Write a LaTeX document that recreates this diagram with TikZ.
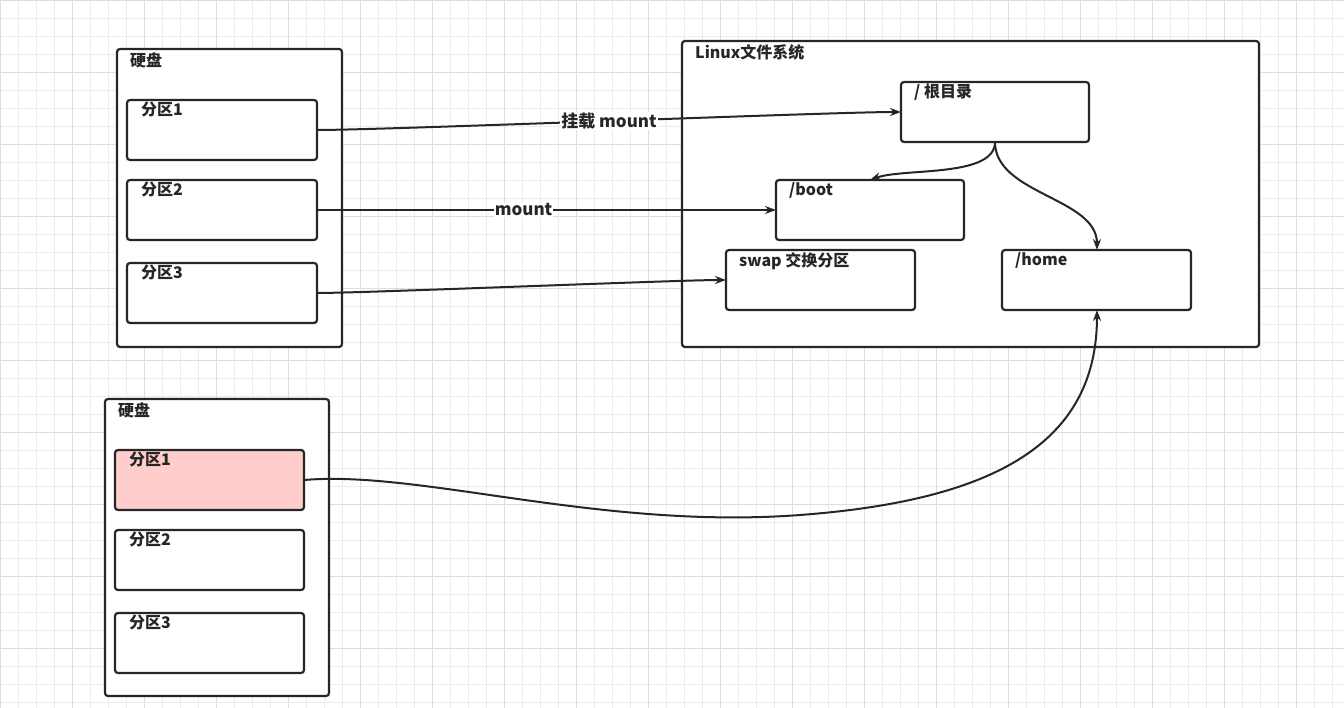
\documentclass[tikz,border=0pt]{standalone}
\usepackage{fontspec}
\setmainfont{Noto Sans CJK SC}
\usetikzlibrary{arrows.meta}
\definecolor{gridc}{RGB}{236,236,236}
\definecolor{gridm}{RGB}{222,222,222}
\definecolor{pinkf}{RGB}{255,206,204}
\begin{document}
\begin{tikzpicture}[x=1pt,y=-1pt,
  box/.style={draw=black!85,line width=2.2pt,rounded corners=3pt},
  lab/.style={anchor=north west,font=\bfseries\fontsize{16}{18}\selectfont,inner sep=0pt,text=black!85},
  con/.style={line width=2pt,draw=black!85,-{Stealth[length=11pt,width=8pt]}},
  tag/.style={fill=white,font=\bfseries\fontsize{17}{19}\selectfont,inner sep=1pt,text=black!85}]
\useasboundingbox (0,0) rectangle (1344,708);
\fill[white] (0,0) rectangle (1344,708);
\foreach \i in {0,18,...,1344} \draw[gridc,line width=0.7pt] (\i,0) -- (\i,708);
\foreach \i in {0,18,...,708} \draw[gridc,line width=0.7pt] (0,\i) -- (1344,\i);
\foreach \i in {0,72,...,1344} \draw[gridm,line width=0.9pt] (\i,0) -- (\i,708);
\foreach \i in {0,72,...,708} \draw[gridm,line width=0.9pt] (0,\i) -- (1344,\i);
% disk 1
\draw[box,fill=white] (117,49) rectangle (342,347);
\node[lab] at (130,52) {硬盘};
\draw[box] (127,100) rectangle (317,160); \node[lab] at (141,102) {分区1};
\draw[box] (127,180) rectangle (317,240); \node[lab] at (141,182) {分区2};
\draw[box] (127,263) rectangle (317,323); \node[lab] at (141,265) {分区3};
\coordinate (p1) at (317,130);
\coordinate (p2) at (317,210);
\coordinate (p3) at (317,293);
% linux fs
\draw[box,fill=white] (682,41) rectangle (1259,347);
\node[lab] at (695,44) {Linux文件系统};
\draw[box] (901,82) rectangle (1089,142); \node[lab] at (914,84) {/ 根目录};
\draw[box] (776,180) rectangle (964,240); \node[lab] at (789,182) {/boot};
\draw[box] (726,250) rectangle (915,310); \node[lab] at (739,252) {swap 交换分区};
\draw[box] (1002,250) rectangle (1191,310); \node[lab] at (1015,252) {/home};
\coordinate (rootw) at (901,112);
\coordinate (roots) at (995,142);
\coordinate (bootn) at (870,180);
\coordinate (bootw) at (776,210);
\coordinate (swapw) at (726,280);
\coordinate (homen) at (1097,250);
\coordinate (homes) at (1097,310);
% disk 2
\draw[box,fill=white] (105,399) rectangle (329,696);
\node[lab] at (118,402) {硬盘};
\draw[box,fill=pinkf] (115,450) rectangle (304,510); \node[lab] at (129,452) {分区1};
\draw[box] (115,530) rectangle (304,590); \node[lab] at (129,532) {分区2};
\draw[box] (115,613) rectangle (304,673); \node[lab] at (129,615) {分区3};
\coordinate (q1) at (304,480);
% connectors
\draw[con] (p1) to[out=0,in=180,looseness=0.3] node[tag,pos=0.5] {挂载 mount} (rootw);
\draw[con] (p2) -- node[tag,pos=0.45] {mount} (bootw);
\draw[con] (p3) to[out=0,in=180,looseness=0.3] (swapw);
\draw[con] (roots) to[out=-90,in=20,looseness=0.7] (bootn);
\draw[con] (roots) to[out=-90,in=90,looseness=0.9] (homen);
\draw[con] (q1) .. controls (420,470) and (600,530) .. (800,515)
  .. controls (1000,500) and (1097,440) .. (homes);
\end{tikzpicture}
\end{document}
